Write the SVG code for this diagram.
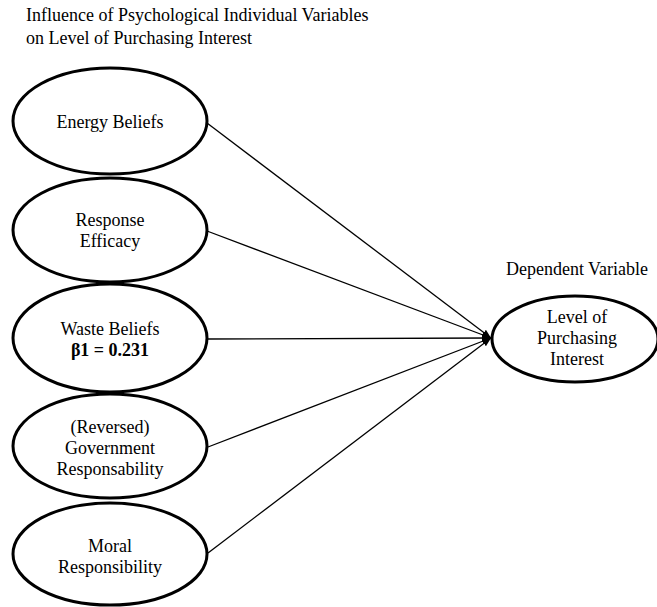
<svg xmlns="http://www.w3.org/2000/svg" width="657" height="607" viewBox="0 0 657 607" font-family="'Liberation Serif', 'Times New Roman', serif">
<style>
svg text{font-family:"Liberation Serif","Times New Roman",serif;font-size:18px;fill:#000}
svg text.c{text-anchor:middle}
svg text.b{font-weight:bold}
ellipse{fill:#fff;stroke:#000;stroke-width:3}
.conn line{stroke:#000;stroke-width:1.3;marker-end:url(#ah)}
</style>
<defs>
<marker id="ah" markerUnits="userSpaceOnUse" markerWidth="10" markerHeight="10" viewBox="0 0 10 10" refX="9" refY="5" orient="auto">
<path d="M0,1.5 L9,5 L0,8.5 Z" fill="#000"/>
</marker>
</defs>
<rect width="657" height="607" fill="#fff"/>
<g id="title">
<text x="26" y="21">Influence of Psychological Individual Variables</text>
<text x="26" y="44">on Level of Purchasing Interest</text>
</g>
<g class="conn" id="connectors">
<line x1="207" y1="123" x2="491" y2="338"/>
<line x1="207" y1="231" x2="491" y2="338"/>
<line x1="207" y1="339" x2="491" y2="338"/>
<line x1="208" y1="447" x2="491" y2="338"/>
<line x1="208" y1="553" x2="491" y2="338"/>
</g>
<g id="energy">
<ellipse cx="110" cy="121" rx="97" ry="53"/>
<text class="c" x="110" y="128">Energy Beliefs</text>
</g>
<g id="response">
<ellipse cx="110" cy="230" rx="97" ry="52"/>
<text class="c" x="110" y="226">Response</text>
<text class="c" x="110" y="247">Efficacy</text>
</g>
<g id="waste">
<ellipse cx="110" cy="338" rx="97" ry="54"/>
<text class="c" x="110" y="335">Waste Beliefs</text>
<text class="c b" x="110" y="356">β1 = 0.231</text>
</g>
<g id="government">
<ellipse cx="110" cy="446" rx="97" ry="52"/>
<text class="c" x="110" y="433">(Reversed)</text>
<text class="c" x="110" y="454">Government</text>
<text class="c" x="110" y="475">Responsability</text>
</g>
<g id="moral">
<ellipse cx="110" cy="554" rx="97" ry="51"/>
<text class="c" x="110" y="552">Moral</text>
<text class="c" x="110" y="573">Responsibility</text>
</g>
<g id="dependent">
<text class="c" x="577" y="275">Dependent Variable</text>
<ellipse cx="575" cy="339" rx="83" ry="43"/>
<text class="c" x="577" y="323">Level of</text>
<text class="c" x="577" y="344">Purchasing</text>
<text class="c" x="577" y="365">Interest</text>
</g>
</svg>
